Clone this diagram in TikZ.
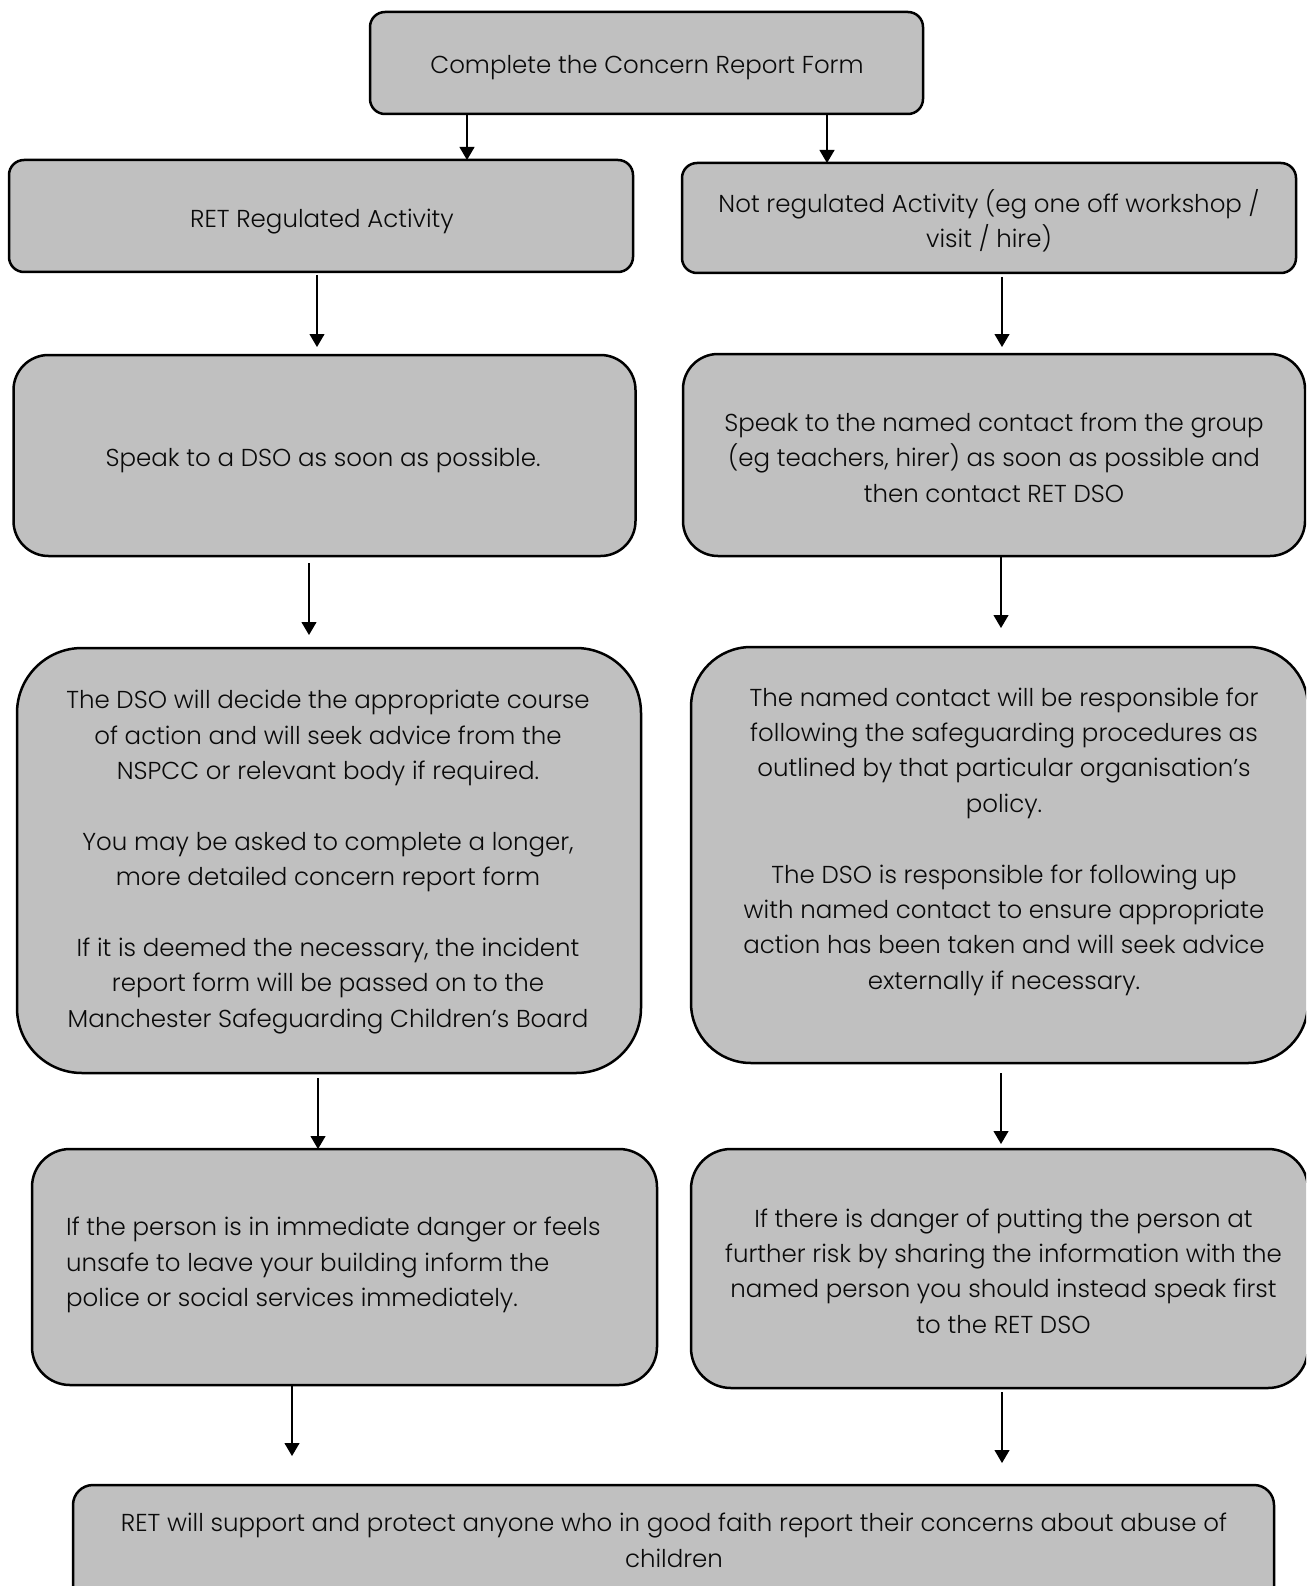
\documentclass[tikz,border=0pt]{standalone}
\usepackage{fontspec}
\setmainfont{Poppins}[UprightFont=* Light]
\usetikzlibrary{arrows.meta}
\definecolor{boxgray}{RGB}{192,192,192}
\definecolor{ink}{RGB}{10,10,10}
\begin{document}
\begin{tikzpicture}[x=1pt,y=-1pt,
  box/.style={draw=black, line width=2.5pt, fill=boxgray, inner sep=0pt, outer sep=0pt},
  txt/.style={inner sep=0pt, align=center, text=ink, font=\fontsize{24.5}{35.4}\selectfont},
  arr/.style={draw=black, line width=1.1pt, -{Triangle[width=15pt,length=13pt]}}]
\useasboundingbox (0,0) rectangle (1306,1586);
\clip (0,0) rectangle (1306,1586);
% boxes
\node[box, rounded corners=15pt, minimum width=553pt, minimum height=102pt] (b1) at (646.5,63) {};
\node[box, rounded corners=15pt, minimum width=624pt, minimum height=112pt] (b2) at (321,216) {};
\node[box, rounded corners=15pt, minimum width=614pt, minimum height=110pt] (b3) at (989,218) {};
\node[box, rounded corners=35pt, minimum width=622pt, minimum height=201pt] (b4) at (324.5,455.5) {};
\node[box, rounded corners=35pt, minimum width=622pt, minimum height=202pt] (b5) at (994,455) {};
\node[box, rounded corners=65pt, minimum width=624pt, minimum height=425pt] (b6) at (329,860.5) {};
\node[box, rounded corners=60pt, minimum width=617pt, minimum height=416pt] (b7) at (999.5,855) {};
\node[box, rounded corners=38pt, minimum width=625pt, minimum height=236pt] (b8) at (344.5,1267) {};
\node[box, rounded corners=40pt, minimum width=617pt, minimum height=239pt] (b9) at (999.5,1268.5) {};
\node[box, rounded corners=20pt, minimum width=1201pt, minimum height=130pt] (b10) at (673.5,1550) {};
% texts
\node[txt] (t1) at (647,68) {Complete the Concern Report Form};
\node[txt] (t2) at (322,222) {RET Regulated Activity};
\node[txt] (t3) at (989,220.5) {Not regulated Activity (eg one off workshop /\\ visit / hire)};
\node[txt] (t4) at (323,460) {Speak to a DSO as soon as possible.};
\node[txt] (t5) at (994,457.5) {Speak to the named contact from the group\\ (eg teachers, hirer) as soon as possible and\\ then contact RET DSO};
\node[txt] (t6) at (328,862) {The DSO will decide the appropriate course\\ of action and will seek advice from the\\ NSPCC or relevant body if required.\\[35.4pt] You may be asked to complete a longer,\\ more detailed concern report form\\[35.4pt] If it is deemed the necessary, the incident\\ report form will be passed on to the\\ Manchester Safeguarding Children’s Board};
\node[txt] (t7) at (1004,841.5) {The named contact will be responsible for\\ following the safeguarding procedures as\\ outlined by that particular organisation’s\\ policy.\\[35.4pt] The DSO is responsible for following up\\ with named contact to ensure appropriate\\ action has been taken and will seek advice\\ externally if necessary.};
\node[txt, align=left, anchor=west] (t8) at (66,1265) {If the person is in immediate danger or feels\\ unsafe to leave your building inform the\\ police or social services immediately.};
\node[txt] (t9) at (1003.5,1271) {If there is danger of putting the person at\\ further risk by sharing the information with the\\ named person you should instead speak first\\ to the RET DSO};
\node[txt] (t10) at (674,1540.5) {RET will support and protect anyone who in good faith report their concerns about abuse of\\ children};
% arrow end points
\coordinate (a3s) at (317,275);  \coordinate (a3e) at (317,347);
\coordinate (a4s) at (1002,277); \coordinate (a4e) at (1002,347);
\coordinate (a5s) at (309,563);  \coordinate (a5e) at (309,635);
\coordinate (a6s) at (1001,557); \coordinate (a6e) at (1001,628);
\coordinate (a7s) at (318,1078);
\coordinate (a8s) at (1001,1073); \coordinate (a8e) at (1001,1144);
\coordinate (a9s) at (292,1386); \coordinate (a9e) at (292,1456);
\coordinate (a10s) at (1002,1392); \coordinate (a10e) at (1002,1463);
% arrows
\draw[arr] (b1.south -| 467,0) -- (b2.north -| 467,0);
\draw[arr] (b1.south -| 827,0) -- (b3.north -| 827,0);
\draw[arr] (a3s) -- (a3e);
\draw[arr] (a4s) -- (a4e);
\draw[arr] (a5s) -- (a5e);
\draw[arr] (a6s) -- (a6e);
\draw[arr] (a7s) -- (a7s |- b8.north);
\draw[arr] (a8s) -- (a8e);
\draw[arr] (a9s) -- (a9e);
\draw[arr] (a10s) -- (a10e);
\end{tikzpicture}
\end{document}
